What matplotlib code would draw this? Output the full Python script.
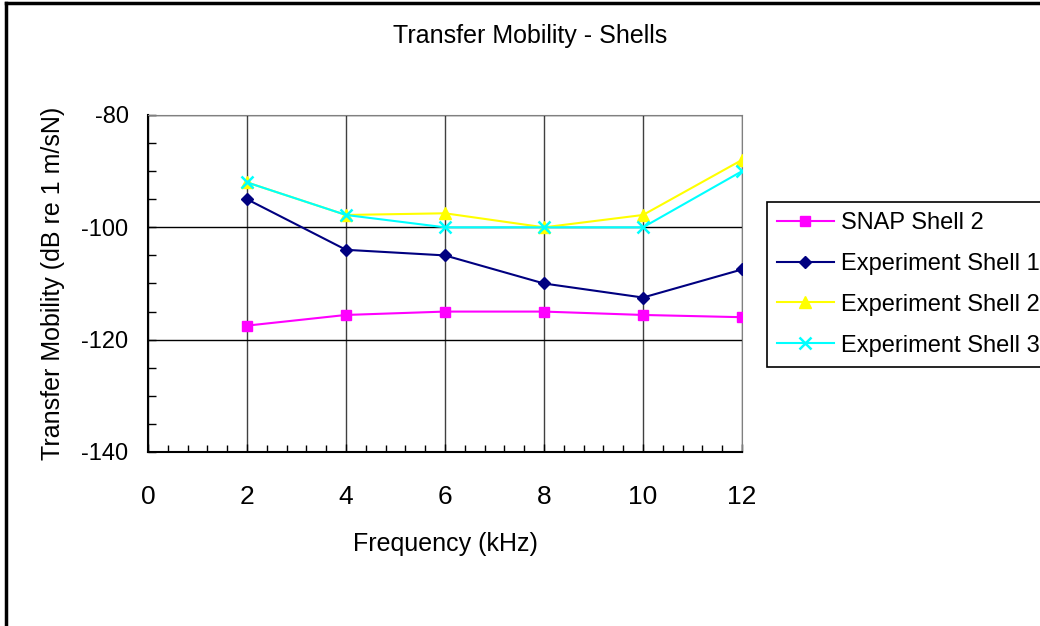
import matplotlib
matplotlib.use('Agg')
import matplotlib.pyplot as plt
from matplotlib.ticker import MultipleLocator
from matplotlib.lines import Line2D

plt.rcParams['font.family'] = ['Liberation Sans', 'DejaVu Sans']
plt.rcParams['axes.unicode_minus'] = False

freq = [2, 4, 6, 8, 10, 12]
snap_shell2 = [-117.5, -115.6, -115, -115, -115.6, -116]
exp_shell1 = [-95, -104, -105, -110, -112.5, -107.5]
exp_shell2 = [-92, -97.8, -97.5, -100, -97.8, -88]
exp_shell3 = [-92, -97.8, -100, -100, -100, -90]

fig = plt.figure(figsize=(10.4, 6.26), dpi=100)
ax = fig.add_axes([148/1040, 1 - 452/626, 594/1040, 337/626])

ax.plot(freq, snap_shell2, color='#FF00FF', marker='s', markersize=7, lw=1.5,
        label='SNAP Shell 2', zorder=5)
ax.plot(freq, exp_shell1, color='#000080', marker='D', markersize=6.5, lw=1.5,
        label='Experiment Shell 1', zorder=5)
ax.plot(freq, exp_shell2, color='#FFFF00', marker='^', markersize=9, lw=1.5,
        label='Experiment Shell 2', zorder=5)
ax.plot(freq, exp_shell3, color='#00FFFF', marker='x', markersize=9, mew=1.8, lw=1.5,
        label='Experiment Shell 3', zorder=6)

ax.set_xlim(0, 12)
ax.set_ylim(-140, -80)
ax.xaxis.set_major_locator(MultipleLocator(2))
ax.xaxis.set_minor_locator(MultipleLocator(0.4))
ax.yaxis.set_major_locator(MultipleLocator(20))
ax.yaxis.set_minor_locator(MultipleLocator(5))

ax.tick_params(axis='x', which='major', direction='in', length=6, width=1,
               labelsize=19, pad=24)
ax.tick_params(axis='x', which='minor', direction='in', length=5, width=1)
ax.tick_params(axis='y', which='major', direction='in', length=6, width=1,
               labelsize=17, pad=14)
ax.tick_params(axis='y', which='minor', direction='in', length=6, width=1)

# gridlines
ax.grid(axis='x', which='major', color='#404040', lw=1)
ax.grid(axis='y', which='major', color='black', lw=1)

for side in ['top', 'right']:
    ax.spines[side].set_color('#808080')
for side in ['left', 'bottom']:
    ax.spines[side].set_color('black')
    ax.spines[side].set_linewidth(1.5)

ax.set_xlabel('Frequency (kHz)', fontsize=18, labelpad=16)
ax.set_ylabel('Transfer Mobility (dB re 1 m/sN)', fontsize=18, labelpad=12)
fig.text(530/1040, 1 - 36/626, 'Transfer Mobility - Shells', fontsize=18,
         ha='center', va='center')

# legend runs off the right edge, as in the original (cropped) chart
leg = fig.legend(loc='upper left', bbox_to_anchor=(767/1040, 1 - 202/626),
                 borderaxespad=0, fontsize=17, frameon=True, fancybox=False,
                 edgecolor='black', framealpha=1, handlelength=2.4,
                 labelspacing=0.8, borderpad=0.42, handletextpad=0.3)
leg.get_frame().set_linewidth(1.2)

# outer chart frame (cropped on the right and bottom)
fig.add_artist(Line2D([6/1040, 6/1040], [0, 1 - 3/626], color='black', lw=2.5))
fig.add_artist(Line2D([6/1040, 1], [1 - 3/626, 1 - 3/626], color='black', lw=2.5))

fig.savefig('out.png', dpi=100)
